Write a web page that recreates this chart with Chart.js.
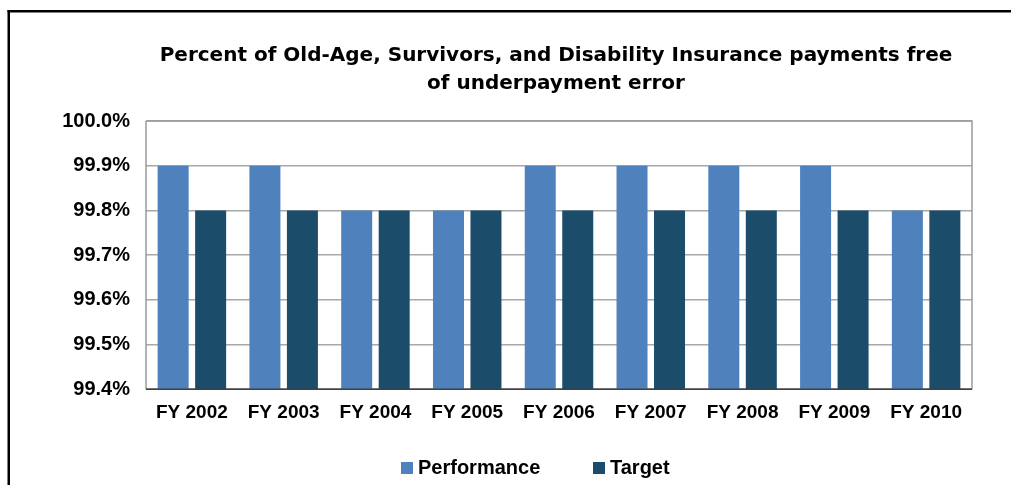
<!DOCTYPE html>
<html>
<head>
<meta charset="utf-8">
<script src="https://cdn.jsdelivr.net/npm/chart.js@4.4.1/dist/chart.umd.min.js"></script>
<style>
  html, body { margin: 0; padding: 0; background: #ffffff; }
  #wrap { width: 1011px; height: 485px; position: relative; }
</style>
</head>
<body>
<div id="wrap"><canvas id="c" width="1011" height="485"></canvas></div>
<script>
const categories = ["FY 2002", "FY 2003", "FY 2004", "FY 2005", "FY 2006", "FY 2007", "FY 2008", "FY 2009", "FY 2010"];
const performance = [99.9, 99.9, 99.8, 99.8, 99.9, 99.9, 99.9, 99.9, 99.8];
const target = [99.8, 99.8, 99.8, 99.8, 99.8, 99.8, 99.8, 99.8, 99.8];
const yTicks = [99.4, 99.5, 99.6, 99.7, 99.8, 99.9, 100.0];
const titleLines = ["Percent of Old-Age, Survivors, and Disability Insurance payments free", "of underpayment error"];
const seriesNames = ["Performance", "Target"];
const seriesColors = ["#4F81BD", "#1B4D6B"];

const FONT = "'Liberation Sans', Arial, sans-serif";
const TFONT = "'DejaVu Sans', Verdana, sans-serif";

const decor = {
  id: 'decor',
  beforeDraw(chart) {
    const ctx = chart.ctx;
    ctx.save();
    ctx.fillStyle = '#ffffff';
    ctx.fillRect(0, 0, chart.width, chart.height);
    ctx.fillStyle = '#000000';
    ctx.fillRect(7.5, 10, 2.5, chart.height - 10);
    ctx.fillRect(7.5, 10, chart.width - 7.5, 2.5);
    ctx.restore();
  },
  afterDatasetsDraw(chart) {
    const ctx = chart.ctx;
    const a = chart.chartArea;
    ctx.save();
    ctx.strokeStyle = '#9a9a9a';
    ctx.lineWidth = 1.5;
    ctx.beginPath();
    ctx.moveTo(a.left, a.top); ctx.lineTo(a.right, a.top); ctx.lineTo(a.right, a.bottom);
    ctx.moveTo(a.left, a.top); ctx.lineTo(a.left, a.bottom);
    ctx.stroke();
    ctx.strokeStyle = '#404040';
    ctx.lineWidth = 1.5;
    ctx.beginPath();
    ctx.moveTo(a.left, a.bottom); ctx.lineTo(a.right, a.bottom);
    ctx.stroke();

    // title
    const cx = (a.left + a.right) / 2 - 3;
    ctx.fillStyle = '#000000';
    ctx.textAlign = 'center';
    ctx.textBaseline = 'alphabetic';
    ctx.font = 'bold 20px ' + TFONT;
    ctx.fillText(titleLines[0], cx, 61);
    ctx.fillText(titleLines[1], cx, 89);

    // legend
    ctx.font = 'bold 20px ' + FONT;
    ctx.textAlign = 'left';
    ctx.textBaseline = 'middle';
    const ly = 468;
    const positions = [401, 593];
    seriesNames.forEach((n, i) => {
      ctx.fillStyle = seriesColors[i];
      ctx.fillRect(positions[i], ly - 6, 12, 12);
      ctx.fillStyle = '#000000';
      ctx.fillText(n, positions[i] + 17, ly);
    });
    ctx.restore();
  }
};

new Chart(document.getElementById('c'), {
  type: 'bar',
  data: {
    labels: categories,
    datasets: [
      { label: seriesNames[0], data: performance, backgroundColor: seriesColors[0], categoryPercentage: 0.817, barPercentage: 0.827 },
      { label: seriesNames[1], data: target, backgroundColor: seriesColors[1], categoryPercentage: 0.817, barPercentage: 0.827 }
    ]
  },
  options: {
    responsive: false,
    animation: false,
    layout: { padding: { top: 121, right: 39, bottom: 49, left: 0 } },
    plugins: { legend: { display: false }, title: { display: false }, tooltip: { enabled: false } },
    scales: {
      x: {
        grid: { display: false, drawTicks: false },
        border: { display: false },
        ticks: { color: '#000', font: { family: FONT, size: 19, weight: 'bold' }, padding: 12, maxRotation: 0 }
      },
      y: {
        min: 99.4, max: 100.0,
        afterBuildTicks(scale) { scale.ticks = yTicks.map(v => ({ value: v })); },
        afterFit(scale) { scale.width = 146; },
        grid: { color: '#a8a8a8', lineWidth: 1.5, drawTicks: false },
        border: { display: false },
        ticks: {
          color: '#000', padding: 16,
          font: { family: FONT, size: 20, weight: 'bold' },
          callback: v => Number(v).toFixed(1) + '%'
        }
      }
    }
  },
  plugins: [decor]
});
</script>
</body>
</html>
